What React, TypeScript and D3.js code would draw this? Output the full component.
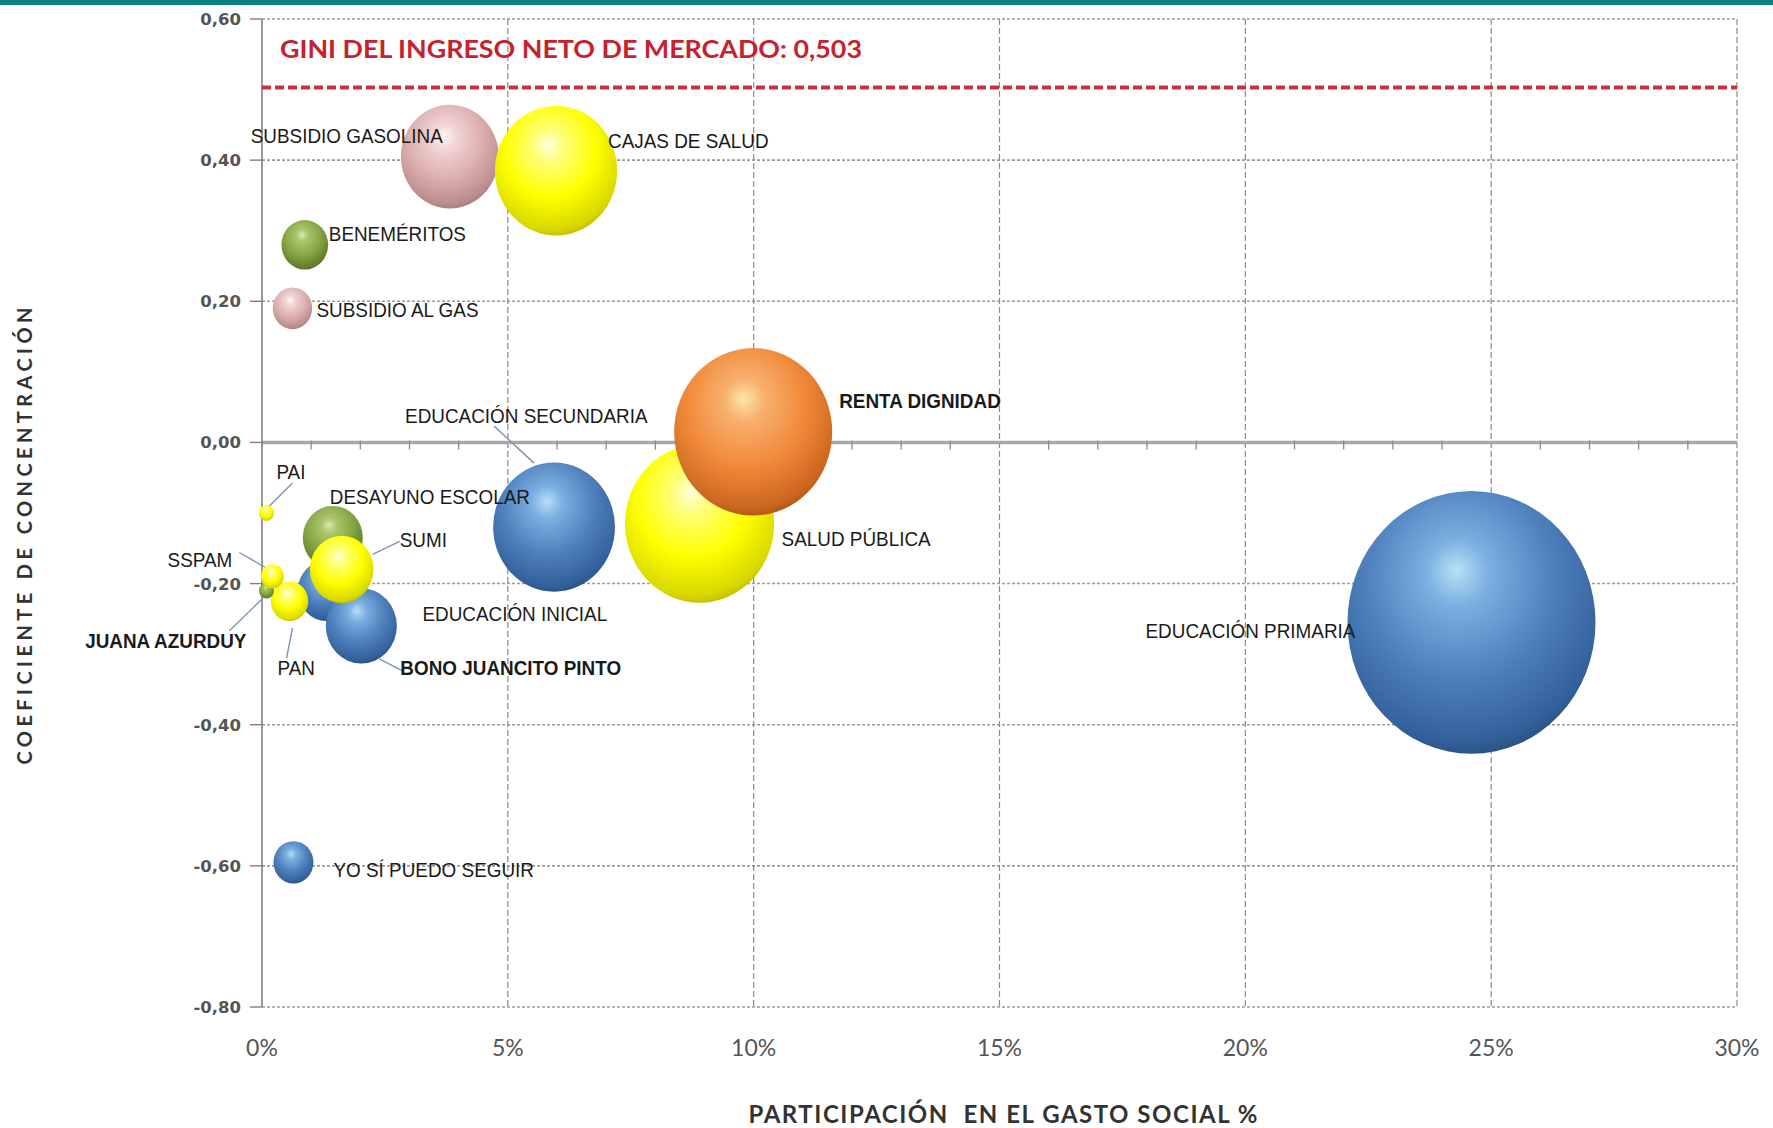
import { useEffect } from 'react'
import * as d3 from 'd3'

// Programas sociales: participación en el gasto social (%) y coeficiente de concentración
const programas = [
  'EDUCACIÓN PRIMARIA',
  'SUBSIDIO GASOLINA',
  'CAJAS DE SALUD',
  'BENEMÉRITOS',
  'SUBSIDIO AL GAS',
  'SALUD PÚBLICA',
  'RENTA DIGNIDAD',
  'EDUCACIÓN SECUNDARIA',
  'YO SÍ PUEDO SEGUIR',
  'EDUCACIÓN INICIAL',
  'BONO JUANCITO PINTO',
  'DESAYUNO ESCOLAR',
  'SUMI',
  'PAN',
  'JUANA AZURDUY',
  'SSPAM',
  'PAI',
]
const participacion = [24.6, 3.82, 5.98, 0.87, 0.62, 8.9, 9.99, 5.94, 0.64, 1.31, 2.02, 1.44, 1.62, 0.56, 0.09, 0.21, 0.09]
const concentracion = [-0.255, 0.405, 0.385, 0.28, 0.19, -0.115, 0.015, -0.12, -0.595, -0.21, -0.26, -0.135, -0.18, -0.225, -0.21, -0.19, -0.1]
const sector = [
  'educacion', 'subsidio', 'salud', 'otros', 'subsidio', 'salud', 'renta', 'educacion',
  'educacion', 'educacion', 'educacion', 'otros', 'salud', 'salud', 'otros', 'salud', 'salud',
]
const xTicks = [0, 5, 10, 15, 20, 25, 30]
const yTicks = [0.6, 0.4, 0.2, 0, -0.2, -0.4, -0.6, -0.8]
const giniMercado = 0.503
const giniTexto = 'GINI DEL INGRESO NETO DE MERCADO: 0,503'
const negritas = ['RENTA DIGNIDAD', 'JUANA AZURDUY', 'BONO JUANCITO PINTO']

// colores de las burbujas (tipo esfera de Excel)
const paleta: Record<string, string[]> = {
  educacion: ['#b8e0f6', '#7aafe0', '#4f81bd', '#33609a', '#1e3d64'],
  salud: ['#ffffdc', '#ffff78', '#ffff00', '#d8d800', '#a0a000'],
  renta: ['#fde6a6', '#f8b06e', '#f08a3a', '#cb6620', '#8e4412'],
  subsidio: ['#fff6f6', '#f1d3d3', '#ddb0b0', '#bb8c8c', '#8c6868'],
  otros: ['#dbe9b0', '#a9c56a', '#87a845', '#62802b', '#405618'],
}

// posición de etiquetas respecto del centro de cada burbuja (px)
const etiquetas: Record<string, { dx: number; dy: number; anchor: string; leader?: number[] }> = {
  'EDUCACIÓN PRIMARIA': { dx: -326, dy: 8, anchor: 'start' },
  'SUBSIDIO GASOLINA': { dx: -7, dy: -21, anchor: 'end' },
  'CAJAS DE SALUD': { dx: 52, dy: -30, anchor: 'start' },
  'BENEMÉRITOS': { dx: 24, dy: -11, anchor: 'start' },
  'SUBSIDIO AL GAS': { dx: 24, dy: 1, anchor: 'start' },
  'RENTA DIGNIDAD': { dx: 86, dy: -31, anchor: 'start' },
  'SALUD PÚBLICA': { dx: 82, dy: 15, anchor: 'start' },
  'EDUCACIÓN SECUNDARIA': { dx: -149, dy: -112, anchor: 'start', leader: [-60, -101, -20, -64] },
  'PAI': { dx: 10, dy: -42, anchor: 'start', leader: [26, -30, 1, -5] },
  'DESAYUNO ESCOLAR': { dx: -3, dy: -41, anchor: 'start', leader: [-6, -31, -15, -16] },
  'SUMI': { dx: 58, dy: -30, anchor: 'start', leader: [58, -28, 31, -15] },
  'SSPAM': { dx: -40, dy: -17, anchor: 'end', leader: [-33, -24, 0, -5] },
  'JUANA AZURDUY': { dx: -20, dy: 50, anchor: 'end', leader: [-37, 40, -4, 8] },
  'PAN': { dx: -12, dy: 66, anchor: 'start', leader: [-3, 57, 3, 27] },
  'EDUCACIÓN INICIAL': { dx: 96, dy: 23, anchor: 'start' },
  'BONO JUANCITO PINTO': { dx: 39, dy: 42, anchor: 'start', leader: [41, 45, 18, 33] },
  'YO SÍ PUEDO SEGUIR': { dx: 40, dy: 7, anchor: 'start' },
}

const W = 1773
const H = 1128
const margin = { top: 19, right: 36, bottom: 121, left: 262 }

export default function App() {
  useEffect(() => {
    document.body.style.margin = '0'
  }, [])

  const x = d3.scaleLinear().domain([0, 30]).range([margin.left, W - margin.right])
  const y = d3.scaleLinear().domain([-0.8, 0.6]).range([H - margin.bottom, margin.top])
  const r = d3.scaleSqrt().domain([0, d3.max(participacion) as number]).range([0, 124])

  const fmt = d3.formatLocale({ decimal: ',', thousands: '.', grouping: [3], currency: ['', ''], minus: '-' }).format('.2f')

  const puntos = programas.map((nombre, i) => ({
    nombre,
    cx: x(participacion[i]),
    cy: y(concentracion[i]),
    rx: r(participacion[i]),
    sector: sector[i],
  }))

  const y0 = y(0)
  const minorTicks = d3.range(1, 30).filter(d => d % 5 !== 0)

  return (
    <svg width={W} height={H} style={{ display: 'block', background: '#fff' }}>
      <defs>
        {Object.entries(paleta).map(([k, c]) => (
          <radialGradient key={k} id={`esfera-${k}`} cx="0.46" cy="0.36" r="0.72" fx="0.44" fy="0.3">
            <stop offset="0" stopColor={c[0]} />
            <stop offset="0.18" stopColor={c[1]} />
            <stop offset="0.52" stopColor={c[2]} />
            <stop offset="0.84" stopColor={c[3]} />
            <stop offset="1" stopColor={c[4]} />
          </radialGradient>
        ))}
      </defs>

      <rect x={0} y={0} width={W} height={5} fill="#0b7f7d" />

      {/* cuadrícula */}
      {yTicks.filter(t => t !== 0).map(t => (
        <line key={`h${t}`} x1={x(0)} x2={x(30)} y1={y(t)} y2={y(t)}
          stroke="#9a9a9a" strokeWidth={1.6} strokeDasharray="3 2" />
      ))}
      {xTicks.filter(t => t !== 0).map(t => (
        <line key={`v${t}`} x1={x(t)} x2={x(t)} y1={y(0.6)} y2={y(-0.8)}
          stroke="#8a8a8a" strokeWidth={1.2} strokeDasharray="6 3" />
      ))}

      {/* eje cero */}
      <line x1={x(0)} x2={x(30)} y1={y0} y2={y0} stroke="#a8a8a8" strokeWidth={3.5} />
      {minorTicks.map(t => (
        <line key={`m${t}`} x1={x(t)} x2={x(t)} y1={y0 - 2} y2={y0 + 7} stroke="#8c8c8c" strokeWidth={1.3} />
      ))}

      {/* eje Y */}
      <line x1={x(0)} x2={x(0)} y1={y(0.6)} y2={y(-0.8)} stroke="#7f7f7f" strokeWidth={1.6} />
      {yTicks.map(t => (
        <g key={`yt${t}`}>
          <line x1={x(0) - 12} x2={x(0)} y1={y(t)} y2={y(t)} stroke="#7f7f7f" strokeWidth={1.4} />
          <text x={x(0) - 21} y={y(t)} dy="0.36em" textAnchor="end"
            fontFamily="DejaVu Sans, sans-serif" fontWeight="bold" fontSize={16.5} fill="#555">
            {fmt(t)}
          </text>
        </g>
      ))}

      {/* eje X */}
      {xTicks.map(t => (
        <text key={`xt${t}`} x={x(t)} y={1048} dy="0.36em" textAnchor="middle"
          fontFamily="Lato, sans-serif" fontSize={23} fill="#555">
          {`${t}%`}
        </text>
      ))}

      {/* línea Gini */}
      <line x1={x(0)} x2={x(30)} y1={y(giniMercado)} y2={y(giniMercado)}
        stroke="#c8323c" strokeWidth={4} strokeDasharray="9 4" />
      <text x={x(0) + 18} y={49} dy="0.36em" fontFamily="Lato, sans-serif" fontSize={25}
        fontWeight="bold" fill="#c5222e" textLength={582} lengthAdjust="spacingAndGlyphs">
        {giniTexto}
      </text>

      {/* líneas guía */}
      {puntos.map(p => {
        const e = etiquetas[p.nombre]
        if (!e.leader) return null
        const [a, b, c, d] = e.leader
        return (
          <line key={`l${p.nombre}`} x1={p.cx + a} y1={p.cy + b} x2={p.cx + c} y2={p.cy + d}
            stroke="#7d93b5" strokeWidth={1.4} />
        )
      })}

      {/* burbujas */}
      {puntos.map(p => (
        <ellipse key={p.nombre} cx={p.cx} cy={p.cy} rx={p.rx} ry={p.rx * 1.06}
          fill={`url(#esfera-${p.sector})`} />
      ))}

      {/* etiquetas */}
      {puntos.map(p => {
        const e = etiquetas[p.nombre]
        return (
          <g key={`t${p.nombre}`} transform={`translate(${p.cx + e.dx},${p.cy + e.dy})`}>
            <text transform="scale(0.9,1)" dy="0.36em" textAnchor={e.anchor}
              fontFamily="Liberation Sans, Arial, sans-serif" fontSize={21}
              fontWeight={negritas.includes(p.nombre) ? 'bold' : 'normal'} fill="#1a1a1a">
              {p.nombre}
            </text>
          </g>
        )
      })}

      {/* títulos */}
      <text x={1003} y={1114} dy="0.36em" textAnchor="middle" fontFamily="Lato, sans-serif"
        fontWeight="bold" fontSize={24} fill="#333" style={{ whiteSpace: 'pre' }}
        textLength={509} lengthAdjust="spacing">
        {'PARTICIPACIÓN  EN EL GASTO SOCIAL %'}
      </text>
      <text transform="translate(25,536) rotate(-90)" dy="0.36em" textAnchor="middle"
        fontFamily="Lato, sans-serif" fontWeight="bold" fontSize={20} fill="#333"
        textLength={457} lengthAdjust="spacing">
        COEFICIENTE DE CONCENTRACIÓN
      </text>
    </svg>
  )
}
